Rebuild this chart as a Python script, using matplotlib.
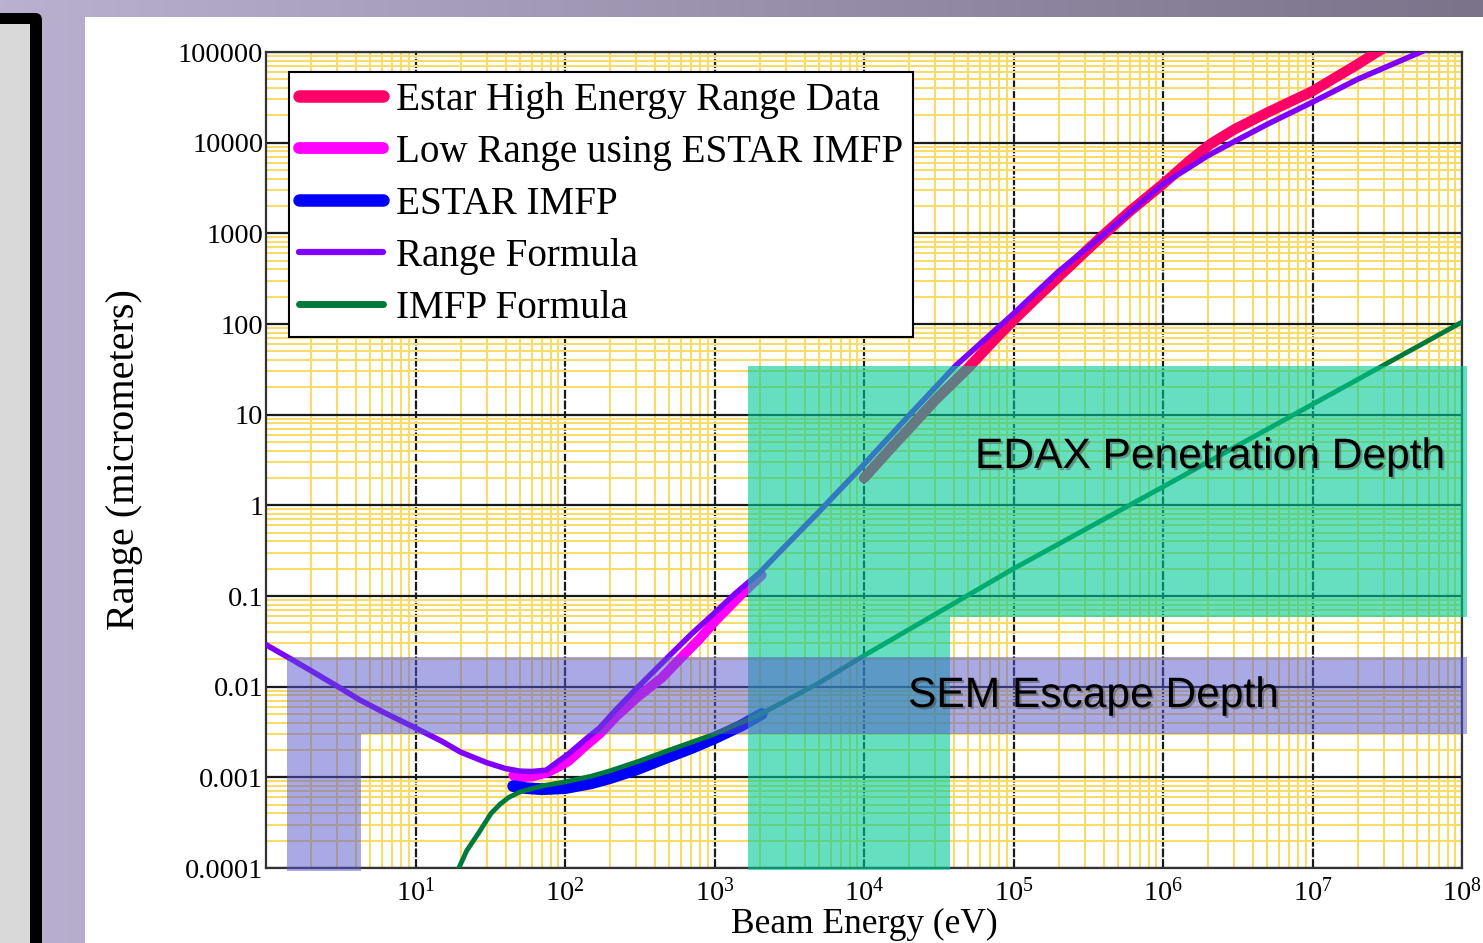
import numpy as np
import matplotlib
matplotlib.use("Agg")
import matplotlib.pyplot as plt
import matplotlib.patheffects as pe
from matplotlib.patches import Polygon, Rectangle, FancyBboxPatch
from matplotlib.ticker import FixedLocator, FixedFormatter, LogLocator, NullFormatter

plt.rcParams['font.family'] = ['Liberation Serif', 'DejaVu Serif']
plt.rcParams['mathtext.fontset'] = 'custom'
plt.rcParams['mathtext.rm'] = 'Liberation Serif'
plt.rcParams['mathtext.it'] = 'Liberation Serif:italic'

# ---- data (eV, micrometers) ----
estar_E = [1e4, 1.5e4, 2e4, 3e4, 5e4, 7e4, 1e5, 1.5e5, 2e5, 3e5, 4.1e5, 6e5,
           1e6, 1.5e6, 2.1e6, 3e6, 5e6, 1e7, 2e7, 2.7e7, 4e7]
estar_R = [2.0, 4.2, 7.0, 14.5, 33, 60, 110, 210, 330, 620, 1000, 1750,
           3500, 6300, 9800, 14000, 21500, 37000, 73000, 1.0e5, 1.45e5]

low_E = [45, 50, 60, 75, 90, 105, 140, 170, 220, 300, 444, 600, 800, 1000, 1520, 2070]
low_R = [0.00105, 0.00100, 0.00102, 0.00112, 0.0013, 0.0015, 0.0023, 0.0030,
         0.0047, 0.0075, 0.0125, 0.021, 0.034, 0.052, 0.105, 0.17]

imfp_E = [45, 55, 70, 100, 150, 200, 300, 500, 700, 1000, 1500, 2070]
imfp_R = [0.00080, 0.00076, 0.00074, 0.00076, 0.00086, 0.00098, 0.00122,
          0.0017, 0.0021, 0.0027, 0.0037, 0.0050]

range_E = [1, 1.5, 2, 3, 4.2, 6, 8, 10, 15, 20, 30, 40, 50, 60, 75, 90, 105,
           140, 170, 220, 300, 380, 500, 700, 1000, 1390, 2000, 2800, 5000,
           9640, 2e4, 4.09e4, 1e5, 2e5, 4.1e5, 1e6, 2e6, 2.9e6, 5e6, 1e7, 2e7,
           5.3e7, 8e7]
range_R = [0.029, 0.0198, 0.0150, 0.0101, 0.0072, 0.0053, 0.0042, 0.0035,
           0.0025, 0.0019, 0.00145, 0.00125, 0.00117, 0.00116, 0.0012, 0.0015,
           0.0018, 0.0027, 0.0035, 0.0056, 0.0095, 0.014, 0.022, 0.038, 0.065,
           0.108, 0.18, 0.32, 0.85, 2.65, 9.8, 34.5, 130, 380, 1000, 3500,
           7200, 1e4, 16000, 28000, 50000, 1e5, 1.35e5]

imfpf_E = [17, 19.5, 22, 26.5, 32, 37, 42, 50, 60, 75, 100, 150, 200, 310, 500,
           1000, 2000, 5000, 1e4, 3e4, 1e5, 1e6, 1e7, 1e8]
imfpf_R = [6e-5, 1.0e-4, 1.55e-4, 2.45e-4, 4.0e-4, 5.1e-4, 6.0e-4, 6.9e-4,
           7.5e-4, 8.2e-4, 8.9e-4, 1.03e-3, 1.18e-3, 1.5e-3, 2.0e-3, 3.0e-3,
           4.9e-3, 1.1e-2, 2.2e-2, 0.063, 0.2, 1.6, 13, 105]

# shaded regions: energy edges and depth edges of the L shaped boxes
edax_E = [1675, 37600, 1.08e8]
edax_depth = [9.5e-5, 0.0587, 34.4]
sem_E = [1.38, 4.32, 1.08e8]
sem_depth = [9.27e-5, 0.0030, 0.0212]

labels = ["Estar High Energy Range Data", "Low Range using ESTAR IMFP",
          "ESTAR IMFP", "Range Formula", "IMFP Formula"]
xtick_vals = [1e1, 1e2, 1e3, 1e4, 1e5, 1e6, 1e7, 1e8]
xtick_labels = ["$10^{%d}$" % k for k in range(1, 9)]
ytick_vals = [1e-4, 1e-3, 1e-2, 1e-1, 1, 10, 100, 1000, 1e4, 1e5]
ytick_labels = ["0.0001", "0.001", "0.01", "0.1", "1", "10", "100", "1000",
                "10000", "100000"]

W, H = 1483, 943
fig = plt.figure(figsize=(W / 100, H / 100), dpi=100)

# slide background
bg = fig.add_axes([0, 0, 1, 1], zorder=-5)
bg.set_xlim(0, W)
bg.set_ylim(H, 0)
bg.axis('off')
t = np.linspace(0, 1, 256)
c0 = np.array([186, 176, 208]) / 255
c1 = np.array([122, 115, 138]) / 255
img = c0[None, None, :] * (1 - t[None, :, None]) + c1[None, None, :] * t[None, :, None]
bg.imshow(img, extent=[0, W, H, 0], aspect='auto')
bg.add_patch(Rectangle((85, 17), W - 85, H - 17, fc='white', ec='none'))
bg.add_patch(FancyBboxPatch((-20, 13), 62, H + 20,
                            boxstyle='round,pad=0,rounding_size=7',
                            fc='black', ec='none'))
bg.add_patch(Rectangle((0, 24), 30, H, fc='#d9d9d9', ec='none'))

ax = fig.add_axes([266 / W, 1 - 868 / H, 1196 / W, 816 / H])
ax.set_facecolor('white')
ax.set_xscale('log')
ax.set_yscale('log')
ax.set_xlim(1, 1e8)
ax.set_ylim(1e-4, 1e5)

l1, = ax.plot(estar_E, estar_R, color='#ff0066', lw=7.5, solid_capstyle='round', zorder=3)
l2, = ax.plot(low_E, low_R, color='#ff00ff', lw=7, solid_capstyle='round', zorder=3.1)
l3, = ax.plot(imfp_E, imfp_R, color='#0000ff', lw=8.5, solid_capstyle='round', zorder=3.2)
l4, = ax.plot(range_E, range_R, color='#8000ff', lw=4, solid_capstyle='round', zorder=3.3)
l5, = ax.plot(imfpf_E, imfpf_R, color='#007a3c', lw=3.5, solid_capstyle='round', zorder=3.4)

edax_pts = [(edax_E[0], edax_depth[0]), (edax_E[0], edax_depth[2]),
            (edax_E[2], edax_depth[2]), (edax_E[2], edax_depth[1]),
            (edax_E[1], edax_depth[1]), (edax_E[1], edax_depth[0])]
sem_pts = [(sem_E[0], sem_depth[0]), (sem_E[0], sem_depth[2]),
           (sem_E[2], sem_depth[2]), (sem_E[2], sem_depth[1]),
           (sem_E[1], sem_depth[1]), (sem_E[1], sem_depth[0])]
ax.add_patch(Polygon(edax_pts, closed=True, fc=(0, 203 / 255, 150 / 255), alpha=0.6,
                     ec='none', clip_on=False, zorder=5))
ax.add_patch(Polygon(sem_pts, closed=True, fc=(85 / 255, 85 / 255, 205 / 255), alpha=0.5,
                     ec='none', clip_on=False, zorder=6))

shadow = [pe.SimplePatchShadow(offset=(1.5, -1.5), shadow_rgbFace='#444444', alpha=0.45),
          pe.Normal()]
ax.text(0.5928, 0.4902, "EDAX Penetration Depth", transform=ax.transAxes,
        fontsize=30.6, family=['Liberation Sans', 'DejaVu Sans'], va='baseline',
        ha='left', zorder=12, path_effects=shadow)
ax.text(0.5368, 0.1973, "SEM Escape Depth", transform=ax.transAxes,
        fontsize=30.6, family=['Liberation Sans', 'DejaVu Sans'], va='baseline',
        ha='left', zorder=12, path_effects=shadow)

# ticks and grid
ax.xaxis.set_major_locator(FixedLocator(xtick_vals))
ax.xaxis.set_major_formatter(FixedFormatter(xtick_labels))
ax.yaxis.set_major_locator(FixedLocator(ytick_vals))
ax.yaxis.set_major_formatter(FixedFormatter(ytick_labels))
for a in (ax.xaxis, ax.yaxis):
    a.set_minor_locator(LogLocator(base=10, subs=np.arange(2, 10), numticks=100))
    a.set_minor_formatter(NullFormatter())
ax.tick_params(which='both', length=0)
ax.tick_params(axis='y', labelsize=20.5, pad=2)
ax.tick_params(axis='x', labelsize=20.5, pad=7)
ax.set_axisbelow(True)
ax.grid(which='minor', color='#f7dc6a', lw=1.5)
ax.grid(which='major', axis='y', color='#1a1a1a', lw=1.6)
ax.grid(which='major', axis='x', color='#1a1a1a', lw=1.6, linestyle=(0, (4, 0.8)))
for s in ax.spines.values():
    s.set_linewidth(1.6)
    s.set_color('#333333')

ax.set_xlabel("Beam Energy (eV)", fontsize=25.5, va='top')
ax.xaxis.set_label_coords(0.5, -0.049)
ax.set_ylabel("Range (micrometers)", fontsize=29)
ax.yaxis.set_label_coords(-0.103, 0.5)

leg = ax.legend([l1, l2, l3, l4, l5], labels, loc='upper left',
                bbox_to_anchor=(0.0193, 0.9755), borderaxespad=0,
                fontsize=28.2, handlelength=2.15, handletextpad=0.32,
                labelspacing=0.385, borderpad=0.25, fancybox=False,
                framealpha=1, edgecolor='black')
leg.get_frame().set_linewidth(1.5)
leg.set_zorder(10)
for h, w in zip(leg.get_lines(), [9, 8.5, 9, 4.5, 5]):
    h.set_linewidth(w)

fig.savefig("out.png", dpi=100)
